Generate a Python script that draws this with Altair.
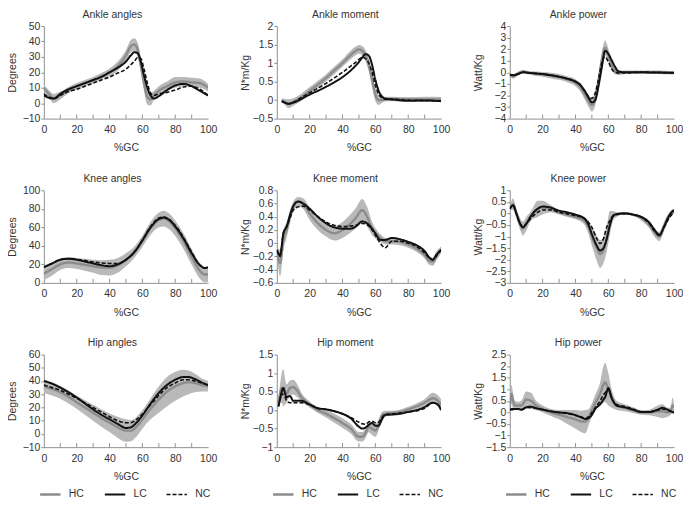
import altair as alt
import pandas as pd

SERIES = ["HC", "LC", "NC"]
X_TICKS = [10, 20, 30, 40, 50, 60, 70, 80, 90]
X_LABELS = [0, 20, 40, 60, 80, 100]

# ---------------- Ankle angles ----------------
AA_X = [0, 3, 6, 10, 15, 20, 25, 30, 35, 40, 45, 50, 53, 55, 57, 59, 61, 63, 65, 67, 70, 75, 80, 85, 90, 95, 100]
AA_HC = [10, 6, 3, 5, 8.5, 11, 13, 15, 17.5, 20, 24, 31, 37, 38, 35, 25, 13, 4, 2.5, 5, 8, 11, 13.5, 14, 13.5, 13, 10]
AA_SD = [2, 2.5, 3, 2.5, 2, 2, 2, 2, 2, 2.5, 3, 3.5, 4, 4, 4.5, 5, 5, 5, 4, 3, 3, 3, 3.5, 3, 3, 3, 2.5]
AA_LC = [5, 3.5, 3, 6, 9, 11, 13, 15, 17, 20, 23, 27, 31, 33, 32.5, 27, 18, 10, 5, 3, 4.5, 8.5, 11.5, 12.5, 11, 8, 5]
AA_NC = [6, 4, 3, 5, 7.5, 9, 11, 13, 15, 17, 19.5, 22, 25, 27, 29.5, 29, 22, 13, 6.5, 5, 6, 7, 8.5, 10.5, 11, 9, 5]
AA_Y = [-10, 0, 10, 20, 30, 40, 50]

# ---------------- Ankle moment ----------------
AM_X = [3, 5, 7, 10, 15, 20, 25, 30, 35, 40, 45, 48, 50, 52, 54, 56, 58, 60, 62, 64, 66, 70, 80, 90, 100]
AM_HC = [0.0, -0.05, -0.1, -0.05, 0.08, 0.25, 0.42, 0.6, 0.8, 1.0, 1.22, 1.33, 1.37, 1.33, 1.2, 0.95, 0.55, 0.15, 0.0, 0.0, 0.03, 0.03, 0.02, 0.02, 0.02]
AM_SD = [0.05, 0.08, 0.12, 0.1, 0.1, 0.1, 0.1, 0.1, 0.1, 0.1, 0.12, 0.12, 0.12, 0.13, 0.15, 0.18, 0.2, 0.18, 0.13, 0.08, 0.06, 0.06, 0.06, 0.07, 0.06]
AM_LC = [-0.03, -0.07, -0.1, -0.07, 0.03, 0.15, 0.25, 0.36, 0.48, 0.62, 0.8, 0.93, 1.03, 1.15, 1.24, 1.2, 0.95, 0.55, 0.25, 0.1, 0.04, 0.02, -0.02, -0.01, -0.03]
AM_NC = [-0.03, -0.07, -0.1, -0.06, 0.07, 0.2, 0.32, 0.45, 0.6, 0.75, 0.92, 1.02, 1.1, 1.15, 1.12, 1.0, 0.75, 0.4, 0.15, 0.06, 0.02, 0.02, 0.0, -0.01, -0.02]
AM_Y = [-0.5, 0, 0.5, 1, 1.5, 2]

# ---------------- Ankle power ----------------
AP_X = [0, 2, 5, 8, 12, 16, 20, 25, 30, 35, 40, 43, 46, 48, 50, 52, 54, 56, 58, 60, 62, 64, 66, 70, 80, 90, 100]
AP_HC = [-0.2, -0.35, -0.1, 0.05, -0.05, -0.12, -0.18, -0.28, -0.4, -0.6, -0.9, -1.3, -2.0, -2.5, -2.85, -2.3, -0.8, 1.0, 2.1, 1.5, 0.6, 0.1, -0.05, 0.0, 0.0, 0.0, -0.05]
AP_SD = [0.15, 0.2, 0.15, 0.15, 0.15, 0.2, 0.2, 0.25, 0.25, 0.25, 0.3, 0.35, 0.45, 0.5, 0.55, 0.6, 0.7, 0.7, 0.65, 0.55, 0.4, 0.25, 0.2, 0.15, 0.15, 0.15, 0.15]
AP_LC = [-0.2, -0.25, -0.15, 0.0, -0.05, -0.1, -0.15, -0.25, -0.38, -0.55, -0.8, -1.1, -1.7, -2.2, -2.6, -2.4, -1.2, 0.4, 1.85, 1.6, 1.05, 0.5, 0.1, 0.0, 0.0, -0.02, -0.05]
AP_NC = [-0.2, -0.25, -0.15, 0.0, -0.05, -0.1, -0.15, -0.25, -0.38, -0.55, -0.8, -1.1, -1.7, -2.1, -2.25, -1.8, -0.6, 0.8, 1.35, 0.9, 0.3, 0.0, -0.05, -0.05, 0.0, -0.02, -0.05]
AP_Y = [-4, -3, -2, -1, 0, 1, 2, 3, 4]

# ---------------- Knee angles ----------------
KA_X = [0, 5, 10, 15, 20, 25, 30, 35, 40, 45, 50, 55, 60, 65, 70, 73, 76, 80, 85, 90, 95, 98, 100]
KA_HC = [10, 15, 20, 22, 21, 19.5, 18, 16.5, 16.5, 19, 25, 33, 45, 59, 68, 69.5, 67, 59, 45, 28, 13, 9, 9]
KA_SD = [7, 7, 6, 6, 6, 6.5, 7, 8, 8.5, 8, 7, 6, 6, 7, 8, 8.5, 8.5, 8.5, 8.5, 8.5, 8.5, 8.5, 8]
KA_LC = [17, 21, 25, 26, 25, 23, 21, 19, 18, 20, 25, 33, 46, 60, 69, 70.5, 68.5, 61, 48, 32, 19, 16, 17]
KA_NC = [17, 21, 25, 26, 25.5, 24, 22.5, 21.5, 21, 21, 25, 33, 46, 61, 70, 71, 69, 62, 49, 33, 19, 16, 17]
KA_Y = [0, 20, 40, 60, 80, 100]

# ---------------- Knee moment ----------------
KM_X = [0, 2, 4, 6, 8, 10, 13, 16, 20, 25, 30, 35, 40, 45, 48, 52, 55, 58, 60, 63, 66, 70, 75, 80, 85, 90, 93, 95, 97, 100]
KM_HC = [-0.1, -0.3, 0.05, 0.2, 0.4, 0.55, 0.63, 0.6, 0.45, 0.3, 0.2, 0.15, 0.2, 0.3, 0.38, 0.5, 0.4, 0.22, 0.15, 0.08, 0.03, 0.03, 0.02, -0.02, -0.08, -0.18, -0.27, -0.28, -0.2, -0.1]
KM_SD = [0.05, 0.2, 0.15, 0.12, 0.1, 0.08, 0.07, 0.08, 0.1, 0.1, 0.1, 0.11, 0.12, 0.14, 0.15, 0.17, 0.15, 0.1, 0.08, 0.06, 0.05, 0.05, 0.05, 0.05, 0.05, 0.05, 0.06, 0.06, 0.07, 0.05]
KM_LC = [-0.1, -0.18, 0.15, 0.25, 0.42, 0.56, 0.63, 0.6, 0.52, 0.4, 0.3, 0.24, 0.22, 0.22, 0.25, 0.33, 0.3, 0.22, 0.15, 0.05, 0.05, 0.08, 0.06, 0.02, -0.03, -0.12, -0.22, -0.25, -0.18, -0.1]
KM_NC = [-0.1, -0.2, 0.15, 0.25, 0.38, 0.5, 0.55, 0.56, 0.5, 0.4, 0.32, 0.27, 0.25, 0.26, 0.27, 0.3, 0.28, 0.2, 0.12, 0.0, -0.07, 0.03, 0.03, 0.0, -0.05, -0.15, -0.23, -0.25, -0.2, -0.1]
KM_Y = [-0.6, -0.4, -0.2, 0, 0.2, 0.4, 0.6, 0.8]

# ---------------- Knee power ----------------
KP_X = [0, 2, 4, 6, 8, 10, 13, 17, 20, 25, 30, 35, 40, 45, 48, 50, 53, 55, 57, 59, 61, 63, 65, 70, 75, 80, 85, 88, 91, 94, 97, 100]
KP_HC = [0.2, 0.4, 0.0, -0.4, -0.65, -0.45, -0.1, 0.2, 0.25, 0.2, 0.05, -0.05, -0.15, -0.3, -0.6, -1.0, -1.5, -1.75, -1.6, -1.1, -0.4, -0.1, -0.05, 0.0, -0.05, -0.2, -0.5, -0.8, -1.0, -0.55, -0.1, 0.1]
KP_SD = [0.1, 0.25, 0.2, 0.25, 0.3, 0.3, 0.2, 0.35, 0.3, 0.15, 0.1, 0.1, 0.1, 0.15, 0.3, 0.4, 0.55, 0.6, 0.55, 0.55, 0.5, 0.2, 0.1, 0.05, 0.05, 0.1, 0.15, 0.2, 0.2, 0.2, 0.15, 0.1]
KP_LC = [0.2, 0.35, 0.0, -0.4, -0.6, -0.45, -0.1, 0.2, 0.3, 0.25, 0.12, 0.05, -0.05, -0.2, -0.5, -0.9, -1.4, -1.6, -1.5, -1.1, -0.5, -0.1, -0.03, 0.0, -0.05, -0.15, -0.4, -0.7, -0.95, -0.55, -0.1, 0.15]
KP_NC = [0.2, 0.35, 0.0, -0.4, -0.55, -0.45, -0.2, 0.05, 0.15, 0.15, 0.05, -0.02, -0.1, -0.2, -0.4, -0.6, -1.1, -1.3, -1.1, -0.6, -0.3, -0.1, -0.05, 0.0, -0.05, -0.15, -0.45, -0.75, -0.9, -0.6, -0.2, 0.05]
KP_Y = [-3, -2.5, -2, -1.5, -1, -0.5, 0, 0.5, 1]

# ---------------- Hip angles ----------------
HA_X = [0, 5, 10, 15, 20, 25, 30, 35, 40, 45, 50, 53, 56, 60, 65, 70, 75, 80, 85, 88, 92, 96, 100]
HA_HC = [36, 34, 31.5, 28, 24, 20, 16, 12, 8.5, 5, 2.5, 2.5, 5, 11, 19, 26, 32, 36, 38.5, 39, 38.5, 37, 36]
HA_SD = [5, 5, 5, 5, 5, 5.5, 6, 6.5, 7, 8, 8.5, 8, 7.5, 7, 8, 10, 11, 11, 10, 9, 7, 5, 4]
HA_LC = [40, 38, 35, 31.5, 27.5, 23, 18.5, 14.5, 11, 7.5, 4.5, 5, 8, 14, 23, 31, 37, 41, 43, 43, 41.5, 39, 37]
HA_NC = [37, 35, 33, 30, 27, 23.5, 20, 16.5, 13, 10, 8.5, 8.5, 10.5, 15, 22, 29, 35, 38.5, 41, 41, 40, 38.5, 37]
HA_Y = [-10, 0, 10, 20, 30, 40, 50, 60]

# ---------------- Hip moment ----------------
HM_X = [1, 2, 3, 4, 5, 6, 8, 10, 12, 15, 20, 25, 30, 35, 40, 45, 50, 52, 54, 56, 58, 60, 62, 64, 66, 70, 75, 80, 85, 90, 95, 98, 100]
HM_HC = [0.2, 0.45, 0.6, 0.6, 0.5, 0.45, 0.6, 0.62, 0.55, 0.35, 0.15, 0.0, -0.1, -0.22, -0.35, -0.5, -0.72, -0.72, -0.62, -0.45, -0.5, -0.55, -0.4, -0.15, -0.1, -0.08, -0.05, 0.02, 0.1, 0.2, 0.32, 0.25, 0.15]
HM_SD = [0.1, 0.25, 0.4, 0.5, 0.35, 0.25, 0.2, 0.2, 0.18, 0.12, 0.08, 0.08, 0.1, 0.12, 0.13, 0.13, 0.13, 0.13, 0.14, 0.15, 0.17, 0.17, 0.15, 0.1, 0.08, 0.06, 0.06, 0.07, 0.08, 0.1, 0.15, 0.15, 0.15]
HM_LC = [0.1, 0.3, 0.5, 0.6, 0.45, 0.35, 0.38, 0.25, 0.25, 0.25, 0.15, 0.05, 0.02, -0.03, -0.1, -0.22, -0.45, -0.5, -0.47, -0.4, -0.35, -0.42, -0.42, -0.25, -0.13, -0.12, -0.1, -0.05, 0.0, 0.08, 0.2, 0.15, 0.0]
HM_NC = [0.1, 0.3, 0.45, 0.4, 0.35, 0.25, 0.2, 0.2, 0.2, 0.2, 0.15, 0.05, 0.02, -0.03, -0.1, -0.2, -0.33, -0.37, -0.38, -0.32, -0.3, -0.34, -0.33, -0.2, -0.12, -0.1, -0.08, -0.05, -0.02, 0.05, 0.2, 0.15, 0.05]
HM_Y = [-1, -0.5, 0, 0.5, 1, 1.5]

# ---------------- Hip power ----------------
HP_X = [0, 1, 2, 3, 5, 7, 10, 13, 16, 20, 25, 30, 35, 40, 43, 46, 48, 50, 52, 55, 57, 58, 60, 62, 65, 70, 75, 80, 85, 90, 93, 96, 98, 99, 100]
HP_HC = [0.2, 0.8, 0.5, 0.3, 0.3, 0.3, 0.55, 0.5, 0.3, 0.15, 0.0, -0.1, -0.2, -0.3, -0.38, -0.4, -0.2, 0.1, 0.4, 0.8, 1.2, 1.3, 1.0, 0.6, 0.3, 0.2, 0.1, 0.0, 0.0, 0.05, 0.05, 0.0, 0.05, 0.3, 0.2]
HP_SD = [0.1, 0.4, 0.35, 0.2, 0.15, 0.2, 0.35, 0.35, 0.2, 0.15, 0.15, 0.2, 0.3, 0.4, 0.45, 0.5, 0.35, 0.3, 0.35, 0.5, 0.8, 0.85, 0.7, 0.4, 0.2, 0.15, 0.12, 0.1, 0.12, 0.25, 0.3, 0.2, 0.15, 0.35, 0.2]
HP_LC = [0.1, 0.15, 0.15, 0.15, 0.15, 0.12, 0.22, 0.25, 0.18, 0.12, 0.05, 0.0, -0.03, -0.12, -0.2, -0.28, -0.25, -0.1, 0.15, 0.35, 0.55, 0.65, 1.05, 0.65, 0.3, 0.22, 0.12, 0.02, 0.02, 0.12, 0.2, 0.12, 0.05, 0.02, 0.0]
HP_NC = [0.1, 0.12, 0.12, 0.12, 0.15, 0.12, 0.2, 0.22, 0.18, 0.12, 0.05, 0.0, -0.05, -0.12, -0.18, -0.25, -0.18, 0.0, 0.2, 0.5, 0.75, 0.85, 1.0, 0.6, 0.35, 0.25, 0.15, 0.03, 0.02, 0.1, 0.15, 0.1, 0.05, 0.02, 0.0]
HP_Y = [-1.5, -1, -0.5, 0, 0.5, 1, 1.5, 2, 2.5]

# ---------------- styling ----------------
W, H = 165, 93
BAND = "#b9b9b9"
HC_COL = "#8c8c8c"
DARK = "#111111"
AXC = "#8f8f8f"
TXT = "#333333"
FONT = "Liberation Sans"


def panel(title, ytitle, x, hc, sd, lc, nc, yvals, fmt, show_legend):
    band_df = pd.DataFrame({
        "x": x,
        "lo": [h - s for h, s in zip(hc, sd)],
        "hi": [h + s for h, s in zip(hc, sd)],
    })
    rows = []
    for name, vals in zip(SERIES, [hc, lc, nc]):
        for xi, v in zip(x, vals):
            rows.append({"x": xi, "v": v, "series": name})
    line_df = pd.DataFrame(rows)
    tick_df = pd.DataFrame({"t": X_TICKS})

    xs = alt.Scale(domain=[0, 100], nice=False)
    ys = alt.Scale(domain=[yvals[0], yvals[-1]], nice=False, zero=False)
    xaxis = alt.Axis(values=X_LABELS, tickCount=len(X_LABELS), title="%GC", ticks=False, grid=False,
                     labelPadding=6, titlePadding=8, labelOverlap=False, labelFlush=False)
    yaxis = alt.Axis(values=yvals, tickCount=len(yvals), format=fmt, title=ytitle, grid=False,
                     labelOverlap=False, labelFlush=False)

    band = alt.Chart(band_df).mark_area(color=BAND, interpolate="monotone", clip=True).encode(
        x=alt.X("x:Q", scale=xs, axis=xaxis),
        y=alt.Y("lo:Q", scale=ys, axis=yaxis),
        y2="hi:Q",
    )
    ticks = alt.Chart(tick_df).mark_rule(color=AXC, strokeWidth=1).encode(
        x=alt.X("t:Q", scale=xs),
        y=alt.value(H),
        y2=alt.value(H - 4),
    )
    if show_legend:
        leg = alt.Legend(title=None, orient="none", legendX=-5, legendY=H + 36,
                         direction="horizontal",
                         symbolType="stroke", symbolSize=420, columnPadding=16,
                         labelOffset=7)
    else:
        leg = None
    lines = alt.Chart(line_df).mark_line(interpolate="monotone", clip=True).encode(
        x=alt.X("x:Q", scale=xs),
        y=alt.Y("v:Q", scale=ys),
        color=alt.Color("series:N", scale=alt.Scale(domain=SERIES, range=[HC_COL, DARK, DARK]), legend=leg),
        strokeDash=alt.StrokeDash("series:N", scale=alt.Scale(domain=SERIES, range=[[1, 0], [1, 0], [4, 2]]), legend=leg),
        strokeWidth=alt.StrokeWidth("series:N", scale=alt.Scale(domain=SERIES, range=[2.4, 1.6, 1.2]), legend=leg),
    )
    return alt.layer(band, ticks, lines).properties(
        width=W, height=H,
        title=alt.TitleParams(title, frame="bounds", anchor="middle"),
    )


p = [
    panel("Ankle angles", "Degrees", AA_X, AA_HC, AA_SD, AA_LC, AA_NC, AA_Y, "d", False),
    panel("Ankle moment", "N*m/Kg", AM_X, AM_HC, AM_SD, AM_LC, AM_NC, AM_Y, ".1~f", False),
    panel("Ankle power", "Watt/Kg", AP_X, AP_HC, AP_SD, AP_LC, AP_NC, AP_Y, "d", False),
    panel("Knee angles", "Degrees", KA_X, KA_HC, KA_SD, KA_LC, KA_NC, KA_Y, "d", False),
    panel("Knee moment", "N*m/Kg", KM_X, KM_HC, KM_SD, KM_LC, KM_NC, KM_Y, ".1~f", False),
    panel("Knee power", "Watt/Kg", KP_X, KP_HC, KP_SD, KP_LC, KP_NC, KP_Y, ".1~f", False),
    panel("Hip angles", "Degrees", HA_X, HA_HC, HA_SD, HA_LC, HA_NC, HA_Y, "d", True),
    panel("Hip moment", "N*m/Kg", HM_X, HM_HC, HM_SD, HM_LC, HM_NC, HM_Y, ".1~f", True),
    panel("Hip power", "Watt/Kg", HP_X, HP_HC, HP_SD, HP_LC, HP_NC, HP_Y, ".1~f", True),
]

ind = dict(color="independent", strokeDash="independent", strokeWidth="independent")

chart = alt.concat(*p, columns=3, spacing={"row": 20, "column": 24}).resolve_scale(
    x="independent", y="independent", **ind).resolve_legend(**ind)

chart = chart.properties(padding=0).configure_view(stroke=None).configure_axis(
    labelFont=FONT, labelFontSize=10.5, labelColor=TXT,
    titleFont=FONT, titleFontSize=10.5, titleFontWeight="normal", titleColor=TXT,
    domainColor=AXC, tickColor=AXC,
).configure_axisY(
    tickSize=3, labelPadding=1, minExtent=22, maxExtent=22, titlePadding=4,
).configure_title(
    font=FONT, fontSize=10.5, fontWeight="normal", color=TXT, offset=1,
).configure_legend(
    labelFont=FONT, labelFontSize=10.5, labelColor=TXT,
)

chart.save("out.html", embed_options={"renderer": "svg", "actions": False})
